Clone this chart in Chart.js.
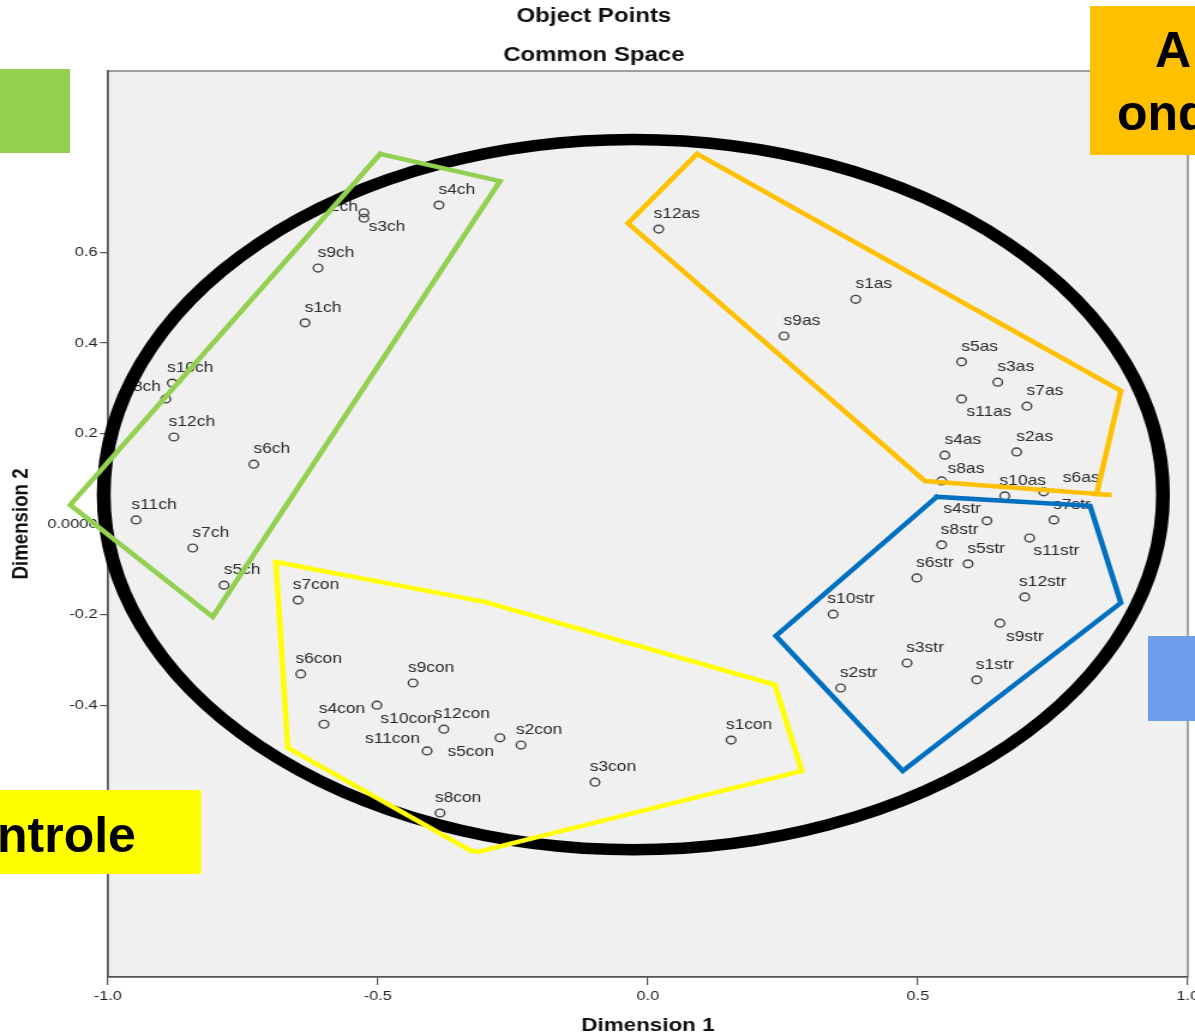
<!DOCTYPE html>
<html>
<head>
<meta charset="utf-8">
<title>Object Points - Common Space</title>
<script src="https://cdn.jsdelivr.net/npm/chart.js@4.4.1/dist/chart.umd.min.js"></script>
<style>
  html, body { margin: 0; padding: 0; background: #fff; overflow: hidden; }
  #page { position: relative; width: 1195px; height: 1036px; overflow: hidden; }
  /* the source picture is an SPSS plot stretched ~1.2x horizontally */
  #plot { position: absolute; left: 0; top: 0; width: 996px; height: 1036px;
          transform: scaleX(1.1998); transform-origin: 0 0; }
  .tag { position: absolute; overflow: hidden; font-family: "Liberation Sans", Arial, sans-serif;
         font-weight: bold; font-size: 50px; line-height: 50px; color: #000; }
  .tag span { position: absolute; white-space: nowrap; }
</style>
</head>
<body>
<div id="page">
  <div id="plot"><canvas id="mdsChart"></canvas></div>
  <div class="tag" style="left:0;top:69px;width:70px;height:84px;background:#92D050"></div>
  <div class="tag" style="left:1090px;top:6px;width:105px;height:149px;background:#FFC000">
    <span style="left:65px;top:19px">A</span>
    <span style="left:27px;top:82px">ond</span>
  </div>
  <div class="tag" style="left:0;top:790px;width:201px;height:84px;background:#FFFF00">
    <span style="left:-3px;top:20px">ntrole</span>
  </div>
  <div class="tag" style="left:1148px;top:636px;width:47px;height:85px;background:#6D9EEB"></div>
</div>

<script>
/* ---- object points (Dimension 1 / Dimension 2) ---- */
const chLabels = ["s1ch", "s2ch", "s3ch", "s4ch", "s5ch", "s6ch", "s7ch", "s8ch", "s9ch", "s10ch", "s11ch", "s12ch"];
const chDim1   = [-0.635, -0.526, -0.526, -0.387, -0.785, -0.730, -0.843, -0.893, -0.611, -0.881, -0.948, -0.878];
const chDim2   = [ 0.444,  0.687,  0.675,  0.704, -0.135,  0.132, -0.053,  0.276,  0.565,  0.311,  0.009,  0.192];

const conLabels = ["s1con", "s2con", "s3con", "s4con", "s5con", "s6con", "s7con", "s8con", "s9con", "s10con", "s11con", "s12con"];
const conDim1   = [ 0.154, -0.235, -0.098, -0.600, -0.274, -0.643, -0.648, -0.385, -0.435, -0.502, -0.409, -0.378];
const conDim2   = [-0.477, -0.488, -0.570, -0.442, -0.472, -0.331, -0.168, -0.638, -0.351, -0.400, -0.501, -0.453];

const asLabels = ["s1as", "s2as", "s3as", "s4as", "s5as", "s6as", "s7as", "s8as", "s9as", "s10as", "s11as", "s12as"];
const asDim1   = [0.385, 0.683, 0.648, 0.550, 0.581, 0.733, 0.702, 0.544, 0.252, 0.661, 0.581, 0.020];
const asDim2   = [0.496, 0.159, 0.313, 0.152, 0.358, 0.071, 0.260, 0.095, 0.415, 0.062, 0.276, 0.651];

const strLabels = ["s1str", "s2str", "s3str", "s4str", "s5str", "s6str", "s7str", "s8str", "s9str", "s10str", "s11str", "s12str"];
const strDim1   = [ 0.609,  0.357,  0.480, 0.628,  0.593,  0.498, 0.752,  0.544,  0.652,  0.343,  0.707,  0.698];
const strDim2   = [-0.344, -0.362, -0.307, 0.007, -0.088, -0.119, 0.009, -0.046, -0.219, -0.199, -0.031, -0.161];

const dim1Ticks = [-1.0, -0.5, 0.0, 0.5, 1.0];
const dim2Ticks = [-0.4, -0.2, 0.0, 0.2, 0.4, 0.6];

/* ---- hand-drawn group outlines (same data space) ---- */
const greenX  = [-0.496, -0.274, -0.806, -1.070, -0.496];
const greenY  = [ 0.817,  0.757, -0.205,  0.042,  0.817];
const yellowX = [-0.689, -0.302,  0.235,  0.285, -0.315, -0.330, -0.667, -0.689];
const yellowY = [-0.084, -0.172, -0.355, -0.545, -0.724, -0.720, -0.494, -0.084];
const orangeX = [0.091, 0.876, 0.831, 0.859, 0.513, -0.037, 0.091];
const orangeY = [0.817, 0.294, 0.066, 0.064, 0.095,  0.664, 0.817];
const blueX   = [0.535, 0.819,  0.876,  0.472,  0.237, 0.535];
const blueY   = [0.060, 0.040, -0.174, -0.545, -0.247, 0.060];
const ring    = { cx: -0.027, cy: 0.065, rx: 0.981, ry: 0.784 };

/* label placement: [align, dx, dy] in canvas px, default is above the point */
const labelOffsets = {
    s2ch:  ["right", -5, -6],  s3ch:  ["left", 4, 9],    s8ch:  ["right", -4, -12],
    s10con:["left", 3, 14],    s11con:["right", -6, -12], s5con: ["right", -5, 14],
    s11as: ["left", 4, 13],    s6as:  ["left", 16, -14], s8as:  ["left", 5, -12],
    s11str:["left", 3, 13],    s9str: ["left", 5, 14],   s4str: ["right", -5, -12]
};

const SANS = '"Liberation Sans", Arial, sans-serif';

const toPoints = (xs, ys) => xs.map((x, i) => ({ x, y: ys[i] }));

function pointSet(names, xs, ys) {
    return {
        names,
        data: toPoints(xs, ys),
        pointRadius: 3.9,
        borderWidth: 1.4,
        borderColor: "#444",
        backgroundColor: "rgba(0,0,0,0)",
        showLine: false,
        order: 2
    };
}

function outline(xs, ys, color) {
    return {
        polygon: true,
        data: toPoints(xs, ys),
        showLine: true,
        borderColor: color,
        borderWidth: 4.5,
        borderJoinStyle: "miter",
        borderCapStyle: "square",
        pointRadius: 0,
        fill: false,
        tension: 0,
        clip: false,
        order: 1
    };
}

function drawLabels(chart) {
    const ctx = chart.ctx;
    ctx.save();
    ctx.font = `14.5px ${SANS}`;
    ctx.fillStyle = "#2b2b2b";
    ctx.textBaseline = "middle";
    chart.data.datasets.forEach((ds, i) => {
        if (!ds.names) return;
        chart.getDatasetMeta(i).data.forEach((pt, j) => {
            const name = ds.names[j];
            const [align, dx, dy] = labelOffsets[name] || ["center", 15, -15];
            ctx.textAlign = align;
            ctx.fillText(name, pt.x + dx, pt.y + dy);
        });
    });
    ctx.restore();
}

function drawRing(chart) {
    const { ctx, scales: { x, y } } = chart;
    const cx = x.getPixelForValue(ring.cx);
    const cy = y.getPixelForValue(ring.cy);
    const rx = x.getPixelForValue(ring.cx + ring.rx) - cx;
    const ry = cy - y.getPixelForValue(ring.cy + ring.ry);
    ctx.save();
    ctx.beginPath();
    ctx.ellipse(cx, cy, rx, ry, 0, 0, Math.PI * 2);
    ctx.lineWidth = 11.5;
    ctx.strokeStyle = "#000";
    ctx.stroke();
    ctx.restore();
}

const overlayPlugin = {
    id: "overlay",
    beforeDraw(chart) {
        const { ctx, chartArea: a } = chart;
        ctx.save();
        ctx.fillStyle = "#F0F0F0";
        ctx.fillRect(a.left, a.top, a.right - a.left, a.bottom - a.top);
        ctx.strokeStyle = "#666";
        ctx.lineWidth = 1.2;
        ctx.strokeRect(a.left, a.top, a.right - a.left, a.bottom - a.top);
        ctx.restore();
    },
    beforeDatasetsDraw(chart) { chart.$labelsDone = false; },
    // labels + ellipse sit above the points but under the coloured outlines
    beforeDatasetDraw(chart, args) {
        const ds = chart.data.datasets[args.index];
        if (!ds.polygon || chart.$labelsDone) return;
        chart.$labelsDone = true;
        drawLabels(chart);
        drawRing(chart);
    }
};

Chart.defaults.font.family = SANS;

new Chart(document.getElementById("mdsChart"), {
    type: "scatter",
    data: {
        datasets: [
            outline(greenX, greenY, "#92D050"),
            outline(yellowX, yellowY, "#FFFF00"),
            outline(orangeX, orangeY, "#FFC000"),
            outline(blueX, blueY, "#0070C0"),
            pointSet(chLabels, chDim1, chDim2),
            pointSet(conLabels, conDim1, conDim2),
            pointSet(asLabels, asDim1, asDim2),
            pointSet(strLabels, strDim1, strDim2)
        ]
    },
    options: {
        responsive: true,
        maintainAspectRatio: false,
        animation: false,
        events: [],
        layout: { padding: { left: 0, right: 6, top: 0, bottom: 0 } },
        plugins: {
            legend: { display: false },
            tooltip: { enabled: false },
            title: {
                display: true, text: "Object Points", color: "#111",
                font: { size: 20, weight: "bold", lineHeight: 1.2 },
                padding: { top: 4, bottom: 8 }
            },
            subtitle: {
                display: true, text: "Common Space", color: "#111",
                font: { size: 20, weight: "bold", lineHeight: 1.2 },
                padding: { top: 7, bottom: 4 }
            }
        },
        scales: {
            x: {
                type: "linear", min: -1, max: 1,
                afterBuildTicks(s) { s.ticks = dim1Ticks.map(value => ({ value })); },
                ticks: {
                    callback: v => Number(v).toFixed(1),
                    font: { size: 13.5 }, color: "#222",
                    padding: 3, maxRotation: 0, autoSkip: false
                },
                grid: { display: true, drawOnChartArea: false, drawTicks: true, tickLength: 8, color: "#555", lineWidth: 1.2 },
                border: { display: true, color: "#555", width: 1.5 },
                title: {
                    display: true, text: "Dimension 1", color: "#111",
                    font: { size: 18.7, weight: "bold", lineHeight: 1.1 },
                    padding: { top: 0, bottom: 0 }
                },
                afterFit(s) { s.height = 59; s.paddingLeft = 0; s.paddingRight = 0; }
            },
            y: {
                type: "linear", min: -1, max: 1,
                afterBuildTicks(s) { s.ticks = dim2Ticks.map(value => ({ value })); },
                ticks: {
                    callback: v => (v === 0 ? "0.0000" : Number(v).toFixed(1)),
                    font: { size: 13.7 }, color: "#222", padding: 2, autoSkip: false
                },
                grid: { display: true, drawOnChartArea: false, drawTicks: true, tickLength: 6.7, color: "#555", lineWidth: 1.2 },
                border: { display: true, color: "#555", width: 1.5 },
                title: {
                    display: true, text: "Dimension 2", color: "#111",
                    font: { size: 18.7, weight: "bold", lineHeight: 1.1 },
                    padding: { top: 8, bottom: 0 }
                },
                afterFit(s) { s.width = 90; s.paddingTop = 0; s.paddingBottom = 0; }
            }
        }
    },
    plugins: [overlayPlugin]
});
</script>
</body>
</html>
